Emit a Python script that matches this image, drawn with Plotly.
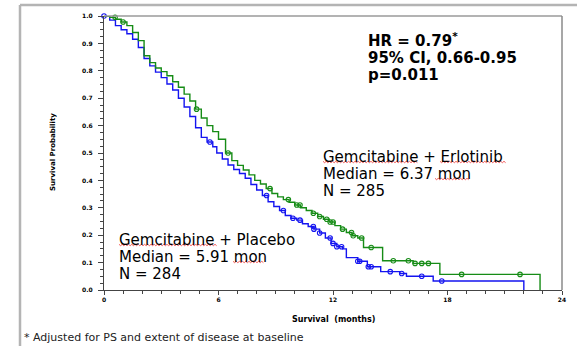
import numpy as np
import plotly.graph_objects as go

# Kaplan-Meier step data (months, survival probability)
erl_t = [0, 0.3, 0.6, 0.9, 1.2, 1.5, 1.8, 2.1, 2.4, 2.7, 3.0, 3.3, 3.6, 3.9, 4.2, 4.5,
         4.8, 5.1, 5.4, 5.7, 6.0, 6.37, 6.7, 7.0, 7.3, 7.6, 7.9, 8.2, 8.5, 8.8, 9.1,
         9.4, 9.7, 10.0, 10.3, 10.6, 10.9, 11.2, 11.5, 11.8, 12.1, 12.4, 12.7, 13.0,
         13.3, 13.6, 14.6, 16.2, 17.6, 22.85]
erl_s = [1.0, 0.995, 0.988, 0.978, 0.965, 0.94, 0.91, 0.855, 0.83, 0.81, 0.797, 0.782,
         0.76, 0.74, 0.715, 0.69, 0.66, 0.628, 0.60, 0.578, 0.55, 0.50, 0.472, 0.455,
         0.438, 0.42, 0.40, 0.387, 0.37, 0.352, 0.34, 0.33, 0.32, 0.31, 0.30, 0.29,
         0.28, 0.268, 0.258, 0.248, 0.235, 0.222, 0.21, 0.198, 0.19, 0.155, 0.107,
         0.097, 0.057, 0.0]
erl_censor_t = [0.58, 1.0, 4.85, 6.5, 8.7, 9.66, 10.1, 10.27, 10.97, 11.3, 11.67, 11.85,
                12.0, 12.5, 12.97, 13.06, 13.5, 14.0, 15.16, 15.95, 16.3, 16.65, 17.0,
                18.74, 21.8]

pla_t = [0, 0.3, 0.6, 0.9, 1.2, 1.5, 1.8, 2.1, 2.4, 2.7, 3.0, 3.3, 3.6, 3.9, 4.2, 4.5,
         4.8, 5.1, 5.4, 5.7, 5.91, 6.2, 6.5, 6.8, 7.1, 7.4, 7.7, 8.0, 8.3, 8.6, 8.9,
         9.2, 9.5, 9.8, 10.1, 10.4, 10.7, 11.0, 11.3, 11.6, 11.9, 12.2, 12.5, 12.7,
         13.3, 13.8, 14.5, 15.5, 15.85, 17.25, 22.0]
pla_s = [1.0, 0.985, 0.965, 0.95, 0.935, 0.915, 0.885, 0.845, 0.818, 0.795, 0.775,
         0.752, 0.73, 0.70, 0.668, 0.633, 0.592, 0.557, 0.54, 0.523, 0.50, 0.478,
         0.456, 0.44, 0.425, 0.408, 0.385, 0.365, 0.345, 0.322, 0.305, 0.29, 0.272,
         0.262, 0.255, 0.242, 0.232, 0.222, 0.208, 0.19, 0.17, 0.158, 0.15, 0.118,
         0.105, 0.085, 0.067, 0.06, 0.05, 0.033, 0.0]
pla_censor_t = [0.0, 5.55, 8.52, 9.4, 9.9, 10.27, 10.97, 11.0, 11.3, 11.85, 12.0, 12.2,
                12.45, 13.3, 13.4, 13.85, 14.0, 15.0, 15.6, 16.65, 17.7]

x_ticks = [0, 6, 12, 18, 24]
y_ticks = [0.0, 0.1, 0.2, 0.3, 0.4, 0.5, 0.6, 0.7, 0.8, 0.9, 1.0]

GREEN = "#168c16"
BLUE = "#1414f0"

W, H = 577, 346
L, R, T, B = 104, 15, 16, 56
PW, PH = W - L - R, H - T - B


def px(x, y):
    """pixel position -> paper coordinates"""
    return (x - L) / PW, (H - B - y) / PH


def km_at(times, surv, t):
    i = np.searchsorted(np.asarray(times), t, side="right") - 1
    return surv[max(i, 0)]


fig = go.Figure()

for t, s, ct, col in [(pla_t, pla_s, pla_censor_t, BLUE), (erl_t, erl_s, erl_censor_t, GREEN)]:
    fig.add_trace(go.Scatter(x=t, y=s, mode="lines", line=dict(color=col, width=1.4, shape="hv"),
                             hoverinfo="skip", showlegend=False))
    fig.add_trace(go.Scatter(x=ct, y=[km_at(t, s, c) for c in ct], mode="markers",
                             marker=dict(symbol="circle-open", size=4.5, color=col, line=dict(width=1.1)),
                             cliponaxis=False, hoverinfo="skip", showlegend=False))

axis_common = dict(showgrid=False, zeroline=False, showline=True, linecolor="#444", linewidth=1.3,
                   ticks="outside", tickcolor="#444", tickwidth=1,
                   tickfont=dict(family="DejaVu Sans", size=6, color="#000", weight="bold"))

fig.update_xaxes(range=[0, 24], tickvals=x_ticks, ticktext=[str(v) for v in x_ticks], ticklen=4,
                 minor=dict(dtick=1, tick0=0, ticks="outside", ticklen=3, tickcolor="#444"),
                 **axis_common)
fig.update_yaxes(range=[0, 1], tickvals=y_ticks, ticktext=[f"{v:.1f}" for v in y_ticks], ticklen=5,
                 ticklabelstandoff=4,
                 minor=dict(dtick=0.025, tick0=0, ticks="outside", ticklen=3, tickcolor="#444"),
                 **axis_common)

shapes = []
# outer frame (top and left)
x0, y0 = px(20, 5)
x1, _ = px(577, 5)
_, yb = px(20, 346)
shapes.append(dict(type="line", xref="paper", yref="paper", x0=x0, y0=y0, x1=x1, y1=y0,
                   line=dict(color="#b4b4b4", width=2.5)))
shapes.append(dict(type="line", xref="paper", yref="paper", x0=x0, y0=y0, x1=x0, y1=yb,
                   line=dict(color="#b4b4b4", width=2.5)))
# plot box top and right edges
shapes.append(dict(type="line", xref="paper", yref="paper", x0=0, y0=1, x1=1, y1=1,
                   line=dict(color="#9a9a9a", width=1.5)))
shapes.append(dict(type="line", xref="paper", yref="paper", x0=1, y0=0, x1=1, y1=1,
                   line=dict(color="#8a8a8a", width=1.5)))


def squiggle(xa, xb, y):
    """red wavy underline path between pixel x positions"""
    pts = []
    k = 0
    x = xa
    while x <= xb:
        pts.append(px(x, y + (1.2 if k % 2 else -0.2)))
        x += 1.6
        k += 1
    d = "M " + " L ".join(f"{a:.5f},{b:.5f}" for a, b in pts)
    return dict(type="path", xref="paper", yref="paper", path=d,
                line=dict(color="#f03030", width=0.8))


for xa, xb, y in [(119, 217, 244.5), (233, 265, 261.5), (323, 418, 161.5), (440, 507, 161.5),
                  (435, 470, 178.5)]:
    shapes.append(squiggle(xa, xb, y))

annotations = []


def label(text, x, y, size, bold=False, family="DejaVu Sans", color="#000", anchor="left"):
    ax, ay = px(x, y)
    annotations.append(dict(text=text, x=ax, y=ay, xref="paper", yref="paper", showarrow=False,
                            xanchor=anchor, yanchor="middle",
                            font=dict(family=family, size=size, color=color,
                                      weight="bold" if bold else "normal")))


label("HR = 0.79<sup>*</sup>", 366, 39.5, 15, bold=True)
label("95% CI, 0.66-0.95", 366, 58, 15, bold=True)
label("p=0.011", 366, 75, 15, bold=True)

label("Gemcitabine + Erlotinib", 321, 156.5, 15)
label("Median = 6.37 mon", 321, 173.5, 15)
label("N = 285", 321, 190.5, 15)

label("Gemcitabine + Placebo", 117, 239.7, 15)
label("Median = 5.91 mon", 117, 256.7, 15)
label("N = 284", 117, 273.5, 15)

label("* Adjusted for PS and extent of disease at baseline", 22, 337, 11, color="#222")

label("Survival  (months)", 333, 319, 8, bold=True, anchor="center")
ax, ay = px(53, 152)
annotations.append(dict(text="Survival Probability", x=ax, y=ay, xref="paper", yref="paper",
                        showarrow=False, textangle=-90, xanchor="center", yanchor="middle",
                        font=dict(family="DejaVu Sans", size=7, color="#000", weight="bold")))

fig.update_layout(width=W, height=H, autosize=False,
                  margin=dict(l=L, r=R, t=T, b=B, pad=0),
                  paper_bgcolor="white", plot_bgcolor="white",
                  shapes=shapes, annotations=annotations, showlegend=False)

fig.write_html("out.html")
